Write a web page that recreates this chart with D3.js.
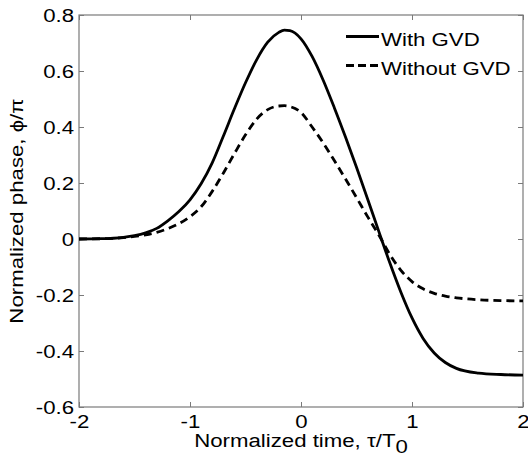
<!DOCTYPE html>
<html>
<head>
<meta charset="utf-8">
<script src="https://cdn.jsdelivr.net/npm/d3@7"></script>
<style>
  body { margin: 0; background: #fff; }
  svg { font-family: "Liberation Sans", Arial, sans-serif; }
</style>
</head>
<body>
<svg id="chart" width="528" height="464"></svg>
<script>
// normalized time tau/T0 and phase phi/pi
let tau = [-2, -1.8, -1.6, -1.5, -1.4, -1.3, -1.2, -1.1, -1.0, -0.9, -0.8, -0.7, -0.6, -0.5, -0.4, -0.3, -0.2, -0.15,
  -0.1, 0, 0.1, 0.2, 0.3, 0.4, 0.5, 0.6, 0.7, 0.8, 0.9, 1.0, 1.1, 1.2, 1.3, 1.4, 1.6, 1.8, 2.0];
let withGVD = [0, 0.001, 0.006, 0.012, 0.022, 0.038, 0.065, 0.098, 0.14, 0.197, 0.272, 0.367, 0.465, 0.558, 0.64, 0.703, 0.738, 0.746,
  0.744, 0.715, 0.652, 0.567, 0.469, 0.365, 0.256, 0.143, 0.028, -0.085, -0.19, -0.282, -0.355, -0.407, -0.441, -0.462, -0.479, -0.484, -0.486];
let withoutGVD = [0, 0.001, 0.005, 0.009, 0.015, 0.024, 0.037, 0.055, 0.08, 0.115, 0.17, 0.235, 0.305, 0.372, 0.428, 0.462, 0.475, 0.476,
  0.473, 0.452, 0.40, 0.343, 0.28, 0.215, 0.148, 0.08, 0.015, -0.055, -0.112, -0.152, -0.178, -0.194, -0.204, -0.21, -0.217, -0.22, -0.221];
let xTicks = [-2, -1, 0, 1, 2];
let yTicks = [-0.6, -0.4, -0.2, 0, 0.2, 0.4, 0.6, 0.8];
let legendNames = ['With GVD', 'Without GVD'];

let svg = d3.select('#chart');
let mLeft = 79, mRight = 523, mTop = 15, mBottom = 407;
let fs = 19, sx = 1.17; // text is drawn a bit wide, like the original

let x = d3.scaleLinear().domain([-2, 2]).range([mLeft, mRight]);
let y = d3.scaleLinear().domain([-0.6, 0.8]).range([mBottom, mTop]);

let axisCol = '#7a7a7a';

// box
svg.append('rect')
  .attr('x', mLeft).attr('y', mTop)
  .attr('width', mRight - mLeft).attr('height', mBottom - mTop)
  .attr('fill', 'none').attr('stroke', axisCol).attr('stroke-width', 1.2);

function styleAxis(g) {
  g.select('.domain').remove();
  g.selectAll('.tick line').attr('stroke', axisCol);
  g.selectAll('.tick text').attr('fill', '#000').style('font-size', fs + 'px')
    .each(function () {
      let t = d3.select(this);
      let xv = +t.attr('x') || 0;
      t.attr('x', xv / sx).attr('transform', 'scale(' + sx + ',1)');
    });
}

svg.append('g').attr('transform', 'translate(0,' + mBottom + ')')
  .call(d3.axisBottom(x).tickValues(xTicks).tickFormat(d => String(d)).tickSizeInner(-5).tickPadding(8))
  .call(styleAxis);
svg.append('g').attr('transform', 'translate(0,' + mTop + ')')
  .call(d3.axisTop(x).tickValues(xTicks).tickFormat('').tickSizeInner(-5))
  .call(styleAxis);
svg.append('g').attr('transform', 'translate(' + mLeft + ',0)')
  .call(d3.axisLeft(y).tickValues(yTicks).tickFormat(d => String(d)).tickSizeInner(-5).tickPadding(5))
  .call(styleAxis);
svg.append('g').attr('transform', 'translate(' + mRight + ',0)')
  .call(d3.axisRight(y).tickValues(yTicks).tickFormat('').tickSizeInner(-5))
  .call(styleAxis);

// curves
let line = d3.line().curve(d3.curveMonotoneX).x(d => x(d[0])).y(d => y(d[1]));
svg.append('path').datum(d3.zip(tau, withGVD))
  .attr('d', line).attr('fill', 'none').attr('stroke', '#000').attr('stroke-width', 2.8);
svg.append('path').datum(d3.zip(tau, withoutGVD))
  .attr('d', line).attr('fill', 'none').attr('stroke', '#000').attr('stroke-width', 2.8)
  .attr('stroke-dasharray', '8,5');

// legend
let leg = svg.append('g');
legendNames.forEach((name, i) => {
  let base = 46 + i * 29;
  leg.append('line').attr('x1', 346).attr('x2', 379).attr('y1', base - 9.5).attr('y2', base - 9.5)
    .attr('stroke', '#000').attr('stroke-width', 2.8)
    .attr('stroke-dasharray', i ? '8,4' : null);
  leg.append('text').attr('transform', 'translate(381,' + base + ') scale(' + sx + ',1)')
    .style('font-size', fs + 'px').text(name);
});

// axis titles
let xt = svg.append('text')
  .attr('transform', 'translate(' + (mLeft + mRight) / 2 + ',447) scale(' + sx + ',1)')
  .attr('text-anchor', 'middle').style('font-size', fs + 'px');
xt.append('tspan').text('Normalized time, τ/T');
xt.append('tspan').attr('dy', 6).text('0');

svg.append('text')
  .attr('transform', 'translate(23,' + (mTop + mBottom) / 2 + ') rotate(-90) scale(' + sx + ',1)')
  .attr('text-anchor', 'middle').style('font-size', fs + 'px')
  .text('Normalized phase, ϕ/π');
</script>
</body>
</html>
